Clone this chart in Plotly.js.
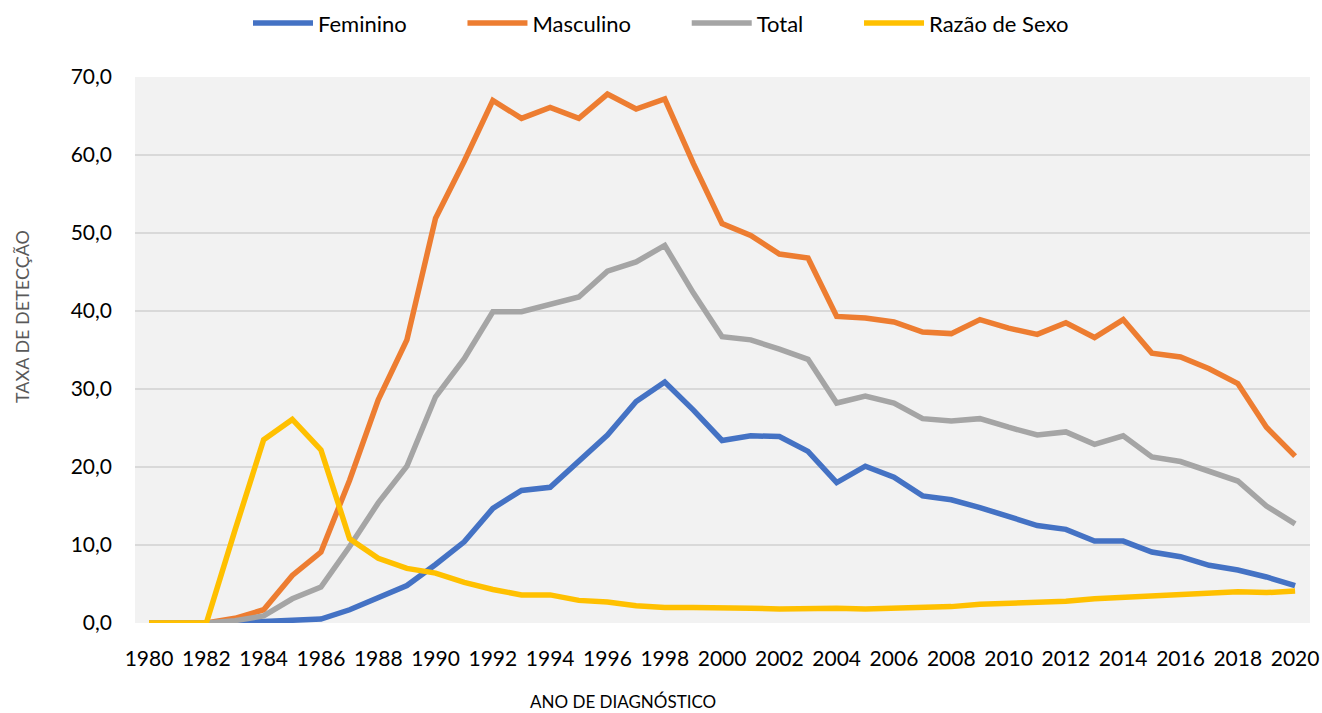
<!DOCTYPE html>
<html>
<head>
<meta charset="utf-8">
<script src="https://cdn.plot.ly/plotly-3.0.1.min.js"></script>
<style>html,body{margin:0;padding:0;background:#fff;}#chart{width:1322px;height:713px;}</style>
</head>
<body>
<div id="chart"></div>
<script>
const years = [];
for (let y = 1980; y <= 2020; y++) years.push(y);

const feminino = [0,0,0,0.05,0.2,0.3,0.5,1.7,3.3,4.8,
  7.5,10.4,14.7,17.0,17.4,20.7,24.1,28.4,30.9,27.3,
  23.4,24.0,23.9,22.0,18.0,20.1,18.7,16.3,15.8,14.8,
  13.6,12.5,12.0,10.5,10.5,9.1,8.5,7.4,6.8,5.9,4.8];
const masculino = [0,0,0,0.6,1.7,6.1,9.1,18.3,28.6,36.3,
  51.9,59.2,67.0,64.7,66.1,64.7,67.8,65.9,67.2,58.9,
  51.2,49.7,47.3,46.8,39.3,39.1,38.6,37.3,37.1,38.9,
  37.8,37.0,38.5,36.6,38.9,34.6,34.1,32.6,30.7,25.1,21.4];
const total = [0,0,0,0.3,0.9,3.1,4.6,9.8,15.4,20.1,
  29.0,33.9,39.9,39.9,40.8,41.8,45.1,46.3,48.4,42.3,
  36.7,36.3,35.1,33.8,28.2,29.1,28.2,26.2,25.9,26.2,
  25.1,24.1,24.5,22.9,24.0,21.3,20.7,19.4,18.2,15.0,12.7];
const razaoSexo = [0,0,0,11.9,23.5,26.1,22.2,10.8,8.3,7.0,
  6.4,5.2,4.3,3.6,3.6,2.9,2.7,2.2,2.0,2.0,
  2.0,1.9,1.8,1.9,1.9,1.8,1.9,2.0,2.1,2.4,
  2.5,2.6,2.8,3.1,3.3,3.4,3.7,3.9,4.0,3.9,4.1];

const seriesNames = ['Feminino','Masculino','Total','Razão de Sexo'];
const seriesData = [feminino, masculino, total, razaoSexo];
const seriesColors = ['#4472C4','#ED7D31','#A5A5A5','#FFC000'];
const xTickVals = years.filter(y => y % 2 === 0);
const xTickText = xTickVals.map(String);
const yTickVals = [0,10,20,30,40,50,60,70];

const font = 'Lato, "Open Sans", sans-serif';
const pad = '\u00a0'.repeat(9);

const traces = seriesNames.map((n, i) => ({
  type: 'scatter', mode: 'lines',
  name: i < seriesNames.length - 1 ? n + pad : n,
  x: years, y: seriesData[i],
  line: {color: seriesColors[i], width: 5.5},
  hoverinfo: 'x+y'
}));

const layout = {
  width: 1322, height: 713,
  margin: {l: 135, r: 12, t: 77, b: 90},
  paper_bgcolor: '#ffffff',
  plot_bgcolor: '#F2F2F2',
  separators: ',.',
  font: {family: font, size: 16, color: '#000'},
  showlegend: true,
  legend: {
    orientation: 'h', x: 0.5, xanchor: 'center', xref: 'container',
    y: 0.997, yanchor: 'top', yref: 'container',
    font: {family: font, size: 22, color: '#000'},
    itemwidth: 60, bgcolor: 'rgba(0,0,0,0)'
  },
  xaxis: {
    type: 'linear', range: [1979.51, 2020.52],
    tickvals: xTickVals, ticktext: xTickText,
    showgrid: false, zeroline: false, showline: false,
    ticks: '', ticklabelstandoff: 21,
    tickfont: {family: font, size: 21, color: '#000'}
  },
  yaxis: {
    range: [0, 70], tickvals: yTickVals, tickformat: '.1f',
    showgrid: true, gridcolor: '#D9D9D9', gridwidth: 1.5,
    zeroline: false, showline: false, ticks: '',
    ticklabelstandoff: 22,
    tickfont: {family: font, size: 21, color: '#000'}
  },
  annotations: [
    {text: 'TAXA DE DETECÇÃO', xref: 'paper', yref: 'paper', x: 0, xanchor: 'center',
     y: 0.5, yanchor: 'middle', textangle: -90, showarrow: false, xshift: -113, yshift: 33,
     font: {family: font, size: 18, color: '#595959'}},
    {text: 'ANO DE DIAGNÓSTICO', xref: 'paper', yref: 'paper', x: 0, xanchor: 'center',
     y: 0, yanchor: 'middle', showarrow: false, xshift: 488, yshift: -78,
     font: {family: font, size: 17, color: '#000'}}
  ]
};

Plotly.newPlot('chart', traces, layout, {displayModeBar: false, staticPlot: true});
</script>
</body>
</html>
